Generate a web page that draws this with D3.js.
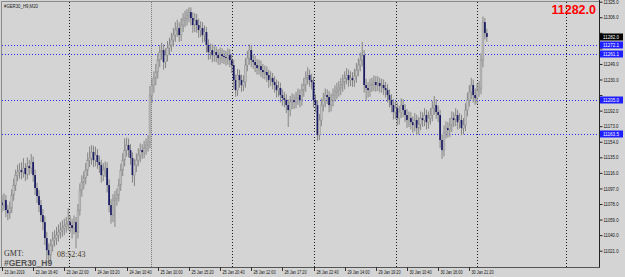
<!DOCTYPE html>
<html>
<head>
<meta charset="utf-8">
<script src="https://cdn.jsdelivr.net/npm/d3@7"></script>
<style>
  html, body { margin: 0; padding: 0; background: #d4d4d4; }
  svg { display: block; }
  text { font-family: "DejaVu Sans", sans-serif; }
</style>
</head>
<body>
<svg id="chart"></svg>
<script>
// GER30 M20 candles
const symbolLabel = '#GER30_H9,M20';
const symbolName = '#GER30_H9';
const clockText = '08:52:43';
const lastPrice = 11282.0;
const firstOpen = 11080.0;

const closes = [
  11076.7, 11082.8, 11070.6, 11066.9, 11073.0, 11088.9, 11101.1, 11113.3, 11117.0, 11119.4,
  11117.0, 11121.9, 11114.5, 11124.3, 11121.9, 11129.2, 11113.3, 11097.5, 11087.7, 11076.7,
  11064.5, 11055.9, 11036.4, 11021.7, 11015.6, 11027.9, 11034.0, 11036.4, 11040.1, 11043.7,
  11046.2, 11048.6, 11051.1, 11053.5, 11055.9, 11052.3, 11048.6, 11055.9, 11043.7, 11070.6,
  11095.0, 11104.8, 11109.7, 11119.4, 11131.6, 11134.1, 11141.4, 11131.6, 11137.7, 11129.2,
  11125.5, 11113.3, 11119.4, 11121.9, 11101.1, 11076.7, 11064.5, 11082.8, 11085.2, 11088.9,
  11101.1, 11119.4, 11131.6, 11143.8, 11150.0, 11143.8, 11134.1, 11113.3, 11125.5, 11131.6,
  11137.7, 11143.8, 11141.4, 11146.3, 11150.0, 11153.6, 11211.0, 11223.2, 11231.8, 11239.1,
  11253.7, 11263.5, 11265.9, 11251.3, 11259.8, 11268.4, 11272.1, 11278.2, 11284.3, 11290.4,
  11292.8, 11284.3, 11296.5, 11302.6, 11305.0, 11308.7, 11312.3, 11305.0, 11296.5, 11302.6,
  11296.5, 11290.4, 11292.8, 11284.3, 11287.9, 11272.1, 11263.5, 11265.9, 11259.8, 11263.5,
  11259.8, 11256.2, 11261.1, 11258.6, 11257.4, 11256.2, 11259.8, 11253.7, 11247.6, 11229.3,
  11217.1, 11235.4, 11229.3, 11223.2, 11226.9, 11247.6, 11256.2, 11265.9, 11253.7, 11251.3,
  11247.6, 11244.0, 11246.4, 11241.5, 11239.1, 11239.1, 11235.4, 11229.3, 11231.8, 11226.9,
  11223.2, 11217.1, 11219.6, 11211.0, 11207.3, 11204.9, 11198.8, 11192.7, 11202.5, 11204.9,
  11202.5, 11207.3, 11211.0, 11204.9, 11217.1, 11223.2, 11231.8, 11235.4, 11229.3, 11226.9,
  11204.9, 11198.8, 11162.2, 11180.5, 11198.8, 11204.9, 11211.0, 11208.6, 11198.8, 11204.9,
  11211.0, 11214.7, 11217.1, 11219.6, 11223.2, 11226.9, 11231.8, 11235.4, 11229.3, 11231.8,
  11229.3, 11234.2, 11241.5, 11247.6, 11253.7, 11259.8, 11223.2, 11219.6, 11217.1, 11223.2,
  11224.4, 11226.9, 11223.2, 11225.7, 11222.0, 11223.2, 11219.6, 11217.1, 11211.0, 11204.9,
  11198.8, 11190.2, 11195.1, 11182.9, 11190.2, 11198.8, 11192.7, 11186.6, 11180.5, 11182.9,
  11178.0, 11174.4, 11180.5, 11170.7, 11175.6, 11182.9, 11180.5, 11186.6, 11178.0, 11182.9,
  11186.6, 11195.1, 11198.8, 11190.2, 11186.6, 11156.1, 11143.8, 11165.8, 11170.7, 11168.3,
  11174.4, 11182.9, 11180.5, 11186.6, 11178.0, 11180.5, 11170.7, 11174.4, 11192.7, 11204.9,
  11214.7, 11223.2, 11211.0, 11207.3, 11217.1, 11219.6, 11253.7, 11300.1, 11286.7, 11282.0
];

const highs = [
  11089, 11091, 11089, 11077, 11081, 11096, 11109, 11120, 11126, 11128,
  11129, 11134, 11128, 11135, 11132, 11139, 11136, 11120, 11104, 11095,
  11083, 11072, 11063, 11044, 11030, 11035, 11044, 11046, 11050, 11053,
  11056, 11058, 11060, 11062, 11073, 11064, 11060, 11064, 11062, 11078,
  11103, 11113, 11118, 11128, 11141, 11148, 11150, 11149, 11148, 11145,
  11137, 11132, 11128, 11130, 11129, 11108, 11084, 11090, 11094, 11097,
  11109, 11127, 11140, 11158, 11159, 11158, 11151, 11141, 11133, 11140,
  11146, 11152, 11151, 11155, 11158, 11162, 11222, 11232, 11240, 11249,
  11262, 11272, 11275, 11273, 11268, 11277, 11281, 11287, 11293, 11300,
  11303, 11300, 11305, 11311, 11314, 11316, 11318, 11318, 11312, 11311,
  11310, 11304, 11301, 11300, 11296, 11294, 11279, 11274, 11273, 11272,
  11270, 11267, 11269, 11268, 11266, 11265, 11268, 11267, 11261, 11254,
  11236, 11243, 11242, 11236, 11235, 11256, 11265, 11273, 11272, 11261,
  11259, 11255, 11254, 11253, 11249, 11247, 11246, 11242, 11240, 11238,
  11234, 11230, 11228, 11226, 11218, 11215, 11212, 11206, 11210, 11213,
  11212, 11215, 11219, 11218, 11225, 11232, 11240, 11245, 11242, 11237,
  11233, 11212, 11205, 11188, 11207, 11214, 11219, 11218, 11216, 11213,
  11219, 11223, 11226, 11228, 11232, 11236, 11240, 11244, 11242, 11240,
  11239, 11243, 11250, 11256, 11263, 11276, 11266, 11231, 11227, 11231,
  11232, 11235, 11234, 11234, 11232, 11231, 11230, 11227, 11224, 11218,
  11212, 11206, 11203, 11202, 11198, 11207, 11206, 11200, 11194, 11191,
  11190, 11185, 11189, 11187, 11184, 11191, 11190, 11195, 11193, 11191,
  11195, 11204, 11210, 11206, 11198, 11193, 11163, 11174, 11179, 11178,
  11183, 11191, 11190, 11195, 11193, 11189, 11187, 11183, 11201, 11214,
  11223, 11232, 11230, 11219, 11225, 11228, 11262, 11307, 11305, 11292
];

const lows = [
  11068, 11070, 11062, 11058, 11060, 11067, 11082, 11094, 11106, 11109,
  11108, 11110, 11106, 11108, 11113, 11115, 11105, 11089, 11079, 11068,
  11056, 11046, 11028, 11010, 11006, 11007, 11020, 11026, 11028, 11032,
  11036, 11038, 11040, 11043, 11046, 11043, 11036, 11041, 11024, 11036,
  11064, 11087, 11096, 11102, 11112, 11123, 11126, 11123, 11124, 11121,
  11116, 11104, 11106, 11111, 11092, 11068, 11054, 11056, 11050, 11076,
  11081, 11094, 11112, 11124, 11136, 11135, 11126, 11104, 11100, 11117,
  11124, 11129, 11133, 11134, 11138, 11142, 11146, 11201, 11214, 11223,
  11231, 11245, 11254, 11242, 11244, 11252, 11260, 11264, 11270, 11276,
  11282, 11276, 11277, 11288, 11294, 11296, 11300, 11296, 11287, 11288,
  11287, 11281, 11282, 11275, 11276, 11263, 11254, 11255, 11251, 11252,
  11251, 11248, 11248, 11250, 11249, 11247, 11248, 11245, 11238, 11218,
  11209, 11210, 11220, 11215, 11216, 11220, 11240, 11248, 11245, 11243,
  11239, 11236, 11236, 11233, 11231, 11230, 11227, 11220, 11222, 11218,
  11214, 11208, 11209, 11202, 11198, 11196, 11189, 11172, 11185, 11194,
  11194, 11195, 11199, 11196, 11198, 11209, 11215, 11224, 11221, 11218,
  11196, 11190, 11155, 11156, 11173, 11191, 11196, 11200, 11190, 11191,
  11197, 11203, 11206, 11209, 11211, 11215, 11218, 11224, 11221, 11222,
  11221, 11221, 11226, 11234, 11240, 11246, 11214, 11204, 11208, 11209,
  11215, 11216, 11215, 11216, 11214, 11214, 11211, 11208, 11202, 11196,
  11190, 11181, 11182, 11174, 11175, 11183, 11184, 11178, 11171, 11172,
  11169, 11165, 11167, 11162, 11163, 11168, 11172, 11173, 11169, 11170,
  11175, 11179, 11187, 11182, 11178, 11146, 11133, 11136, 11158, 11159,
  11160, 11166, 11172, 11173, 11169, 11170, 11162, 11163, 11167, 11185,
  11197, 11206, 11202, 11199, 11200, 11209, 11212, 11245, 11279, 11276
];

const priceTicks = [11021, 11040, 11059, 11078, 11097, 11116, 11135, 11154, 11173,
  11192, 11211, 11230, 11249, 11268, 11287, 11306, 11325];

const timeLabels = ['23 Jan 2019', '23 Jan 16:40', '23 Jan 22:00', '24 Jan 03:20', '24 Jan 10:40',
  '25 Jan 10:00', '25 Jan 15:20', '25 Jan 20:40', '28 Jan 12:00', '28 Jan 17:20', '28 Jan 22:40',
  '29 Jan 14:00', '29 Jan 19:20', '30 Jan 10:40', '30 Jan 16:00', '30 Jan 21:20'];
const timeLabelBars = [0, 16, 32, 48, 64, 80, 96, 112, 128, 144, 160, 176, 192, 208, 224, 240];

const levelPrices = [11272.1, 11261.1, 11205.0, 11163.5];
const levelLabels = ['11272.1', '11261.1', '11205.0', '11163.5'];
const gridBars = [34.4, 118.1, 160.2, 202.4, 244.1, 289.4];
const separatorBars = [76.5];

const width = 625;
const height = 277;
const plotRight = 599;
const plotBottom = 267;
const axisFont = '"Liberation Sans", Arial, sans-serif';

const svg = d3.select('#chart')
  .attr('width', width)
  .attr('height', height);

const x = d3.scaleLinear()
  .domain([0, 306.6])
  .range([2, plotRight]);

const y = d3.scaleLinear()
  .domain([11021, 11325])
  .range([250.7, 1.7]);

svg.append('rect')
  .attr('width', width)
  .attr('height', height)
  .attr('fill', '#d4d4d4');

// vertical grid + period separator
svg.selectAll('.grid')
  .data(gridBars)
  .enter().append('line')
  .attr('x1', d => Math.round(x(d)) + .5)
  .attr('x2', d => Math.round(x(d)) + .5)
  .attr('y1', 2)
  .attr('y2', plotBottom)
  .attr('stroke', '#1a1a1a')
  .attr('stroke-dasharray', '1,2');

svg.selectAll('.sep')
  .data(separatorBars)
  .enter().append('line')
  .attr('x1', d => Math.round(x(d)) + .5)
  .attr('x2', d => Math.round(x(d)) + .5)
  .attr('y1', 2)
  .attr('y2', plotBottom)
  .attr('stroke', '#7a7a7a')
  .attr('stroke-dasharray', '1,1');

// horizontal level lines
svg.selectAll('.level')
  .data(levelPrices)
  .enter().append('line')
  .attr('x1', 2)
  .attr('x2', plotRight)
  .attr('y1', d => Math.round(y(d)) + .5)
  .attr('y2', d => Math.round(y(d)) + .5)
  .attr('stroke', '#2a2aff')
  .attr('stroke-dasharray', '1,2');

const candles = closes.map((c, i) => ({
  i,
  o: i ? closes[i - 1] : firstOpen,
  c,
  h: highs[i],
  l: lows[i]
}));

const candle = svg.append('g')
  .selectAll('g')
  .data(candles)
  .enter().append('g');

candle.append('line')
  .attr('x1', d => x(d.i))
  .attr('x2', d => x(d.i))
  .attr('y1', d => y(d.h))
  .attr('y2', d => y(d.l))
  .attr('stroke', '#858585')
  .attr('stroke-width', 1);

candle.append('rect')
  .attr('x', d => x(d.i) - .9)
  .attr('width', 1.8)
  .attr('y', d => y(Math.max(d.o, d.c)))
  .attr('height', d => Math.max(1, Math.abs(y(d.o) - y(d.c))))
  .attr('fill', d => d.c >= d.o ? '#c2c2c2' : '#1c1c66')
  .attr('stroke', d => d.c >= d.o ? '#909090' : 'none')
  .attr('stroke-width', .5);

// frame
svg.append('path')
  .attr('d', `M1.5,${plotBottom}V1.5H${plotRight}`)
  .attr('fill', 'none')
  .attr('stroke', '#8a8a8a');

svg.append('line')
  .attr('x1', plotRight + .5).attr('x2', plotRight + .5)
  .attr('y1', 0).attr('y2', plotBottom + .5)
  .attr('stroke', '#222');

svg.append('line')
  .attr('x1', 0).attr('x2', plotRight + 1)
  .attr('y1', plotBottom + .5).attr('y2', plotBottom + .5)
  .attr('stroke', '#555');

// price axis, labels hidden where a price tag covers them
const tagPrices = levelPrices.concat([lastPrice]);
const covered = v => tagPrices.some(p => Math.abs(y(p) - y(v)) < 6);

const yAxis = d3.axisRight(y)
  .tickValues(priceTicks)
  .tickSize(3)
  .tickPadding(1)
  .tickFormat(d => covered(d) ? '' : d3.format('.1f')(d));

const yAxisG = svg.append('g')
  .attr('transform', `translate(${plotRight + .5},0)`)
  .call(yAxis);
yAxisG.select('.domain').remove();
yAxisG.selectAll('line').attr('stroke', '#222');
yAxisG.selectAll('text')
  .attr('fill', '#111')
  .attr('textLength', d => covered(d) ? null : 15)
  .attr('lengthAdjust', 'spacingAndGlyphs')
  .style('font-size', '5px')
  .style('font-family', axisFont);

// time axis
const xTicks = svg.append('g')
  .selectAll('g')
  .data(timeLabelBars)
  .enter().append('g')
  .attr('transform', d => `translate(${Math.round(x(d)) + .5},${plotBottom})`);

xTicks.append('line')
  .attr('y1', 0)
  .attr('y2', 4)
  .attr('stroke', '#333');

xTicks.append('text')
  .attr('x', 2)
  .attr('y', 7)
  .attr('fill', '#111')
  .attr('textLength', (d, i) => i ? 22 : 20)
  .attr('lengthAdjust', 'spacingAndGlyphs')
  .style('font-size', '5px')
  .style('font-family', axisFont)
  .text((d, i) => timeLabels[i]);

// level labels on price axis
const levelTag = svg.selectAll('.level-tag')
  .data(levelPrices)
  .enter().append('g')
  .attr('transform', d => `translate(${plotRight + 1},${Math.round(y(d))})`);

levelTag.append('rect')
  .attr('x', 0)
  .attr('y', -3.5)
  .attr('width', 23)
  .attr('height', 7)
  .attr('fill', '#1e1eff');

levelTag.append('text')
  .attr('x', 3)
  .attr('y', 2)
  .attr('fill', '#fff')
  .attr('textLength', 16)
  .attr('lengthAdjust', 'spacingAndGlyphs')
  .style('font-size', '5px')
  .style('font-family', axisFont)
  .text((d, i) => levelLabels[i]);

// current price tag
const lastTag = svg.append('g')
  .attr('transform', `translate(${plotRight + 1},${Math.round(y(lastPrice))})`);

lastTag.append('rect')
  .attr('x', 0)
  .attr('y', -3.5)
  .attr('width', 23)
  .attr('height', 7)
  .attr('fill', '#000');

lastTag.append('text')
  .attr('x', 3)
  .attr('y', 2)
  .attr('fill', '#fff')
  .attr('textLength', 16)
  .attr('lengthAdjust', 'spacingAndGlyphs')
  .style('font-size', '5px')
  .style('font-family', axisFont)
  .text(d3.format('.1f')(lastPrice));

// texts
svg.append('text')
  .attr('x', 4)
  .attr('y', 8)
  .attr('fill', '#222')
  .attr('textLength', 34)
  .attr('lengthAdjust', 'spacingAndGlyphs')
  .style('font-size', '5px')
  .style('font-family', axisFont)
  .text(symbolLabel);

svg.append('text')
  .attr('x', 596)
  .attr('y', 14)
  .attr('text-anchor', 'end')
  .attr('fill', '#ff0000')
  .style('font-size', '12.5px')
  .style('font-weight', 'bold')
  .style('font-family', 'Arial, "Liberation Sans", sans-serif')
  .text(d3.format('.1f')(lastPrice));

svg.append('text')
  .attr('x', 4)
  .attr('y', 256)
  .attr('fill', '#333')
  .style('font-size', '8px')
  .style('font-family', '"Liberation Serif", serif')
  .text('GMT:');

svg.append('text')
  .attr('x', 57)
  .attr('y', 257)
  .attr('fill', '#4a3a2a')
  .style('font-size', '8px')
  .style('font-family', '"Liberation Serif", serif')
  .text(clockText);

svg.append('text')
  .attr('x', 4)
  .attr('y', 266)
  .attr('fill', '#555')
  .style('font-size', '8.5px')
  .style('font-weight', 'bold')
  .style('font-family', '"Liberation Sans", Arial, sans-serif')
  .text(symbolName);
</script>
</body>
</html>
